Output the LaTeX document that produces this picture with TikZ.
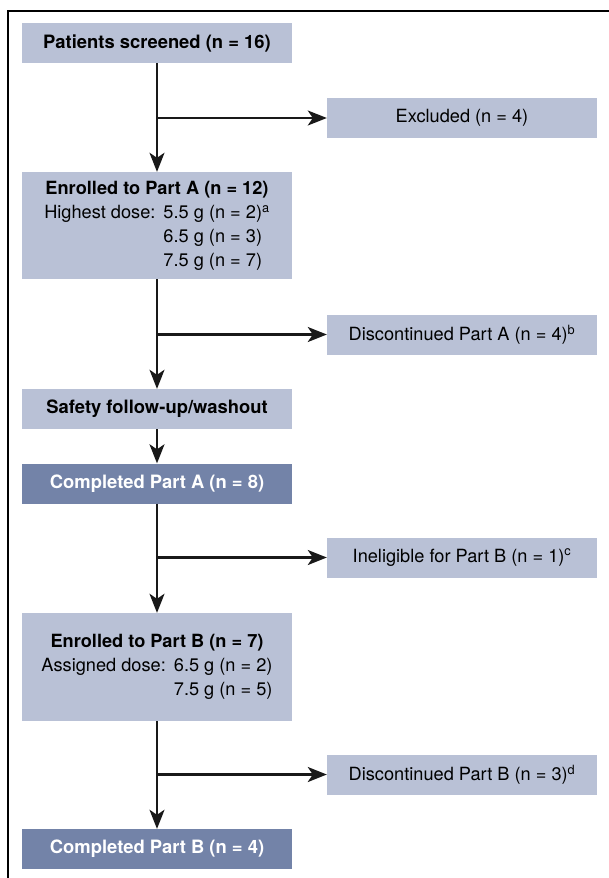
\documentclass[tikz,border=0pt]{standalone}
\usepackage{fontspec}
\setmainfont{TeX Gyre Heros}
\usetikzlibrary{arrows.meta}
\definecolor{boxlight}{RGB}{185,193,214}
\definecolor{boxdark}{RGB}{115,131,168}
\tikzset{
    flowbox/.style={fill=boxlight, minimum width=270pt, minimum height=40pt,
        inner sep=0pt, align=center, font=\fontsize{18.2}{24}\selectfont},
    boldbox/.style={flowbox, font=\fontsize{18.4}{24}\selectfont\bfseries},
    darkbox/.style={boldbox, fill=boxdark, text=white},
    flow/.style={line width=2.3pt, draw=black!90,
        -{Stealth[length=19pt,width=15pt,inset=5pt]}},
}

\begin{document}
\begin{tikzpicture}[x=1pt,y=-1pt]
        \useasboundingbox (0,0) rectangle (609,878);
        \draw[line width=2pt] (8,878) -- (8,11) -- (609,11);

        % main column
        \node[boldbox]                     (screened) at (157,43)    {Patients screened (n = 16)};
        \node[flowbox,minimum height=107pt] (enrA)    at (157,225.5) {%
            \begin{tabular}{@{}r@{\hspace{8pt}}l@{}}
                \multicolumn{2}{@{}c@{}}{\bfseries Enrolled to Part A (n = 12)}\\
                Highest dose: & 5.5 g (n = 2)\textsuperscript{a}\\
                              & 6.5 g (n = 3)\\
                              & 7.5 g (n = 7)
            \end{tabular}};
        \node[boldbox]                     (safety)   at (157,409)   {Safety follow-up/washout};
        \node[darkbox]                     (compA)    at (157,483.5) {Completed Part A (n = 8)};
        \node[flowbox,minimum height=108pt] (enrB)    at (157,667)   {%
            \begin{tabular}{@{}r@{\hspace{8pt}}l@{}}
                \multicolumn{2}{@{}c@{}}{\bfseries Enrolled to Part B (n = 7)}\\
                Assigned dose: & 6.5 g (n = 2)\\
                               & 7.5 g (n = 5)
            \end{tabular}};
        \node[darkbox]                     (compB)    at (157,849)   {Completed Part B (n = 4)};

        % side column
        \node[flowbox] (excl)   at (462,118)   {Excluded (n = 4)};
        \node[flowbox] (discA)  at (462,334.5) {Discontinued Part A (n = 4)\textsuperscript{b}};
        \node[flowbox] (inelig) at (462,557.5) {Ineligible for Part B (n = 1)\textsuperscript{c}};
        \node[flowbox] (discB)  at (462,774.5) {Discontinued Part B (n = 3)\textsuperscript{d}};

        \draw[flow] (screened) -- (enrA);
        \draw[flow] (enrA)     -- (safety);
        \draw[flow] (safety)   -- (compA);
        \draw[flow] (compA)    -- (enrB);
        \draw[flow] (enrB)     -- (compB);

        \draw[flow] (screened.south |- excl.west)  -- (excl.west);
        \draw[flow] (enrA.south     |- discA.west) -- (discA.west);
        \draw[flow] (compA.south    |- inelig.west) -- (inelig.west);
        \draw[flow] (enrB.south     |- discB.west) -- (discB.west);
    \end{tikzpicture}
\end{document}
